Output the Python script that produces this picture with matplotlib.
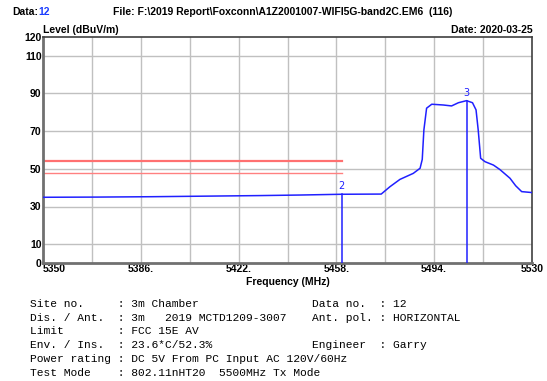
import matplotlib.pyplot as plt

# measured trace (MHz, dBuV/m)
freq = [5350, 5370, 5390, 5410, 5430, 5445, 5460, 5474.5, 5477.7, 5481.4,
        5486.3, 5488.8, 5489.6, 5490.2, 5491.2, 5493.1, 5497.3, 5500.4, 5502.9,
        5505.9, 5508.1, 5509.4, 5510.2, 5511.1, 5512.7, 5515.8, 5518.2, 5521.9,
        5524.0, 5526.2, 5530]
level = [34.9, 35.0, 35.2, 35.5, 35.8, 36.1, 36.5, 36.6, 40.5, 44.4,
         47.6, 50.3, 55.0, 70.6, 82.2, 84.3, 83.9, 83.4, 85.1,
         86.2, 85.1, 81.3, 70.6, 55.6, 53.8, 52.0, 49.6, 45.0,
         41.0, 37.9, 37.4]

# markers
marker_ids = ['2', '3']
marker_freq = [5460, 5505.9]
marker_level = [36.5, 86.2]

# limit lines (peak / average) up to band edge
limit_levels = [54, 48]
limit_end = 5460

xticks = [5350, 5386, 5422, 5458, 5494, 5530]
xtick_labels = ['5350', '5386.', '5422.', '5458.', '5494.', '5530']
yticks = [0, 10, 30, 50, 70, 90, 110, 120]

info_left = ['Site no.     : 3m Chamber',
             'Dis. / Ant.  : 3m   2019 MCTD1209-3007',
             'Limit        : FCC 15E AV',
             'Env. / Ins.  : 23.6*C/52.3%',
             'Power rating : DC 5V From PC Input AC 120V/60Hz',
             'Test Mode    : 802.11nHT20  5500MHz Tx Mode']
info_right = ['Data no.  : 12', 'Ant. pol. : HORIZONTAL', '', 'Engineer  : Garry', '', '']

W, H = 547, 381
fig = plt.figure(figsize=(W / 100, H / 100), dpi=100)
ax = fig.add_axes([43 / W, (H - 263) / H, 489 / W, 226 / H])

def fx(px):
    return px / W

def fy(py):
    return 1 - py / H

grid_c = '#c0c0c0'
for f in range(5368, 5530, 18):
    ax.axvline(f, color=grid_c, lw=1, zorder=1)
for y in [10, 30, 50, 70, 90, 110]:
    ax.axhline(y, color=grid_c, lw=1, zorder=1)

ax.plot([5350, limit_end], [limit_levels[0]] * 2, color='#ff7070', lw=1.6, zorder=2)
ax.plot([5350, limit_end], [limit_levels[1]] * 2, color='#ff8080', lw=1.0, zorder=2)

blue = '#2020ff'
ax.plot(freq, level, color=blue, lw=1.1, zorder=3)
for mid, mf, ml in zip(marker_ids, marker_freq, marker_level):
    ax.plot([mf, mf], [0, ml], color=blue, lw=1.1, zorder=3)
    ax.text(mf, ml + 1.5, mid, color=blue, fontsize=7, ha='center', va='bottom',
            family='DejaVu Sans')

ax.set_xlim(5350, 5530)
ax.set_ylim(0, 120)
ax.set_xticks(xticks)
ax.set_xticklabels(xtick_labels)
ax.set_yticks(yticks)
ax.tick_params(length=0, pad=1, labelsize=7.5)
for lab in ax.get_xticklabels() + ax.get_yticklabels():
    lab.set_fontweight('bold')
    lab.set_family('Liberation Sans')
ax.get_xticklabels()[0].set_ha('left')
for s in ax.spines.values():
    s.set_color('#404040')
    s.set_linewidth(1.2)
ax.spines['left'].set_color('#707070')
ax.spines['bottom'].set_color('#707070')
ax.spines['left'].set_linewidth(2)
ax.spines['bottom'].set_linewidth(2)

ax.set_xlabel('Frequency (MHz)', fontsize=7.5, fontweight='bold',
              family='Liberation Sans', labelpad=2)

hdr = dict(fontsize=7.5, fontweight='bold', family='Liberation Sans', va='center')
fig.text(fx(12), fy(12), 'Data:', **hdr)
fig.text(fx(38), fy(12), '12', color='#1a3cff', **hdr)
fig.text(fx(113), fy(12), 'File: F:\\2019 Report\\Foxconn\\A1Z2001007-WIFI5G-band2C.EM6  (116)', **hdr)
fig.text(fx(43), fy(30), 'Level (dBuV/m)', **hdr)
fig.text(fx(533), fy(30), 'Date: 2020-03-25', ha='right', **hdr)

mono = dict(fontsize=8.1, family='Liberation Mono', va='center')
for i, (a, b) in enumerate(zip(info_left, info_right)):
    y = 304 + i * 13.7
    fig.text(fx(30), fy(y), a, **mono)
    if b:
        fig.text(fx(312), fy(y), b, **mono)

fig.savefig('out.png', dpi=100)
